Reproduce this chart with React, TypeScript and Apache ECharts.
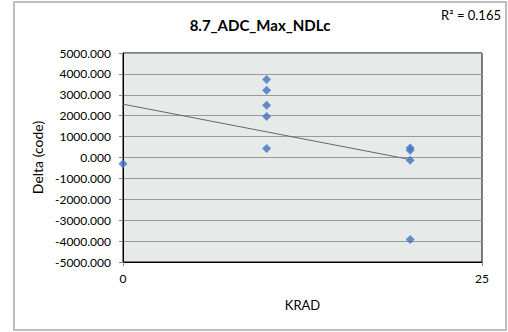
import React, { useEffect, useRef } from "react";
import * as echarts from "echarts";

const title = "8.7_ADC_Max_NDLc";
const xValues = [0, 10, 10, 10, 10, 10, 20, 20, 20, 20];
const yValues = [-300, 3730, 3220, 2500, 1960, 430, 460, 350, -130, -3920];
const yTicks = [-5000, -4000, -3000, -2000, -1000, 0, 1000, 2000, 3000, 4000, 5000];
const xTicks = [0, 25];

function regression(xs: number[], ys: number[]) {
  const n = xs.length;
  const mx = xs.reduce((a, b) => a + b, 0) / n;
  const my = ys.reduce((a, b) => a + b, 0) / n;
  let sxy = 0, sxx = 0, syy = 0;
  for (let i = 0; i < n; i++) {
    sxy += (xs[i] - mx) * (ys[i] - my);
    sxx += (xs[i] - mx) ** 2;
    syy += (ys[i] - my) ** 2;
  }
  const slope = sxy / sxx;
  const intercept = my - slope * mx;
  return { slope, intercept, r2: (sxy * sxy) / (sxx * syy) };
}

export default function App() {
  const ref = useRef<HTMLDivElement>(null);
  useEffect(() => {
    if (!ref.current) return;
    const chart = echarts.init(ref.current, undefined, { renderer: "svg" });
    const reg = regression(xValues, yValues);
    const xmin = Math.min(...xValues);
    const xmax = Math.max(...xValues);
    const font = "Lato, 'Open Sans', sans-serif";
    chart.setOption({
      animation: false,
      backgroundColor: "transparent",
      textStyle: { fontFamily: font },
      graphic: [
        {
          type: "text",
          x: 260,
          y: 25,
          style: {
            text: title,
            fill: "#000",
            font: `bold 15px ${font}`,
            textAlign: "center",
            textVerticalAlign: "middle",
          },
        },
        {
          type: "text",
          x: 501,
          y: 15,
          style: {
            text: `R² = ${reg.r2.toFixed(3)}`,
            fill: "#000",
            font: `13px ${font}`,
            textAlign: "right",
            textVerticalAlign: "middle",
          },
        },
      ],
      grid: {
        left: 123,
        top: 53,
        width: 359,
        height: 209,
        show: true,
        backgroundColor: "#E6EBEA",
        borderColor: "#000",
        borderWidth: 1,
      },
      xAxis: {
        type: "value",
        min: xTicks[0],
        max: xTicks[xTicks.length - 1],
        interval: xTicks[1] - xTicks[0],
        name: "KRAD",
        nameLocation: "middle",
        nameGap: 36,
        nameTextStyle: { fontSize: 13, color: "#000", fontFamily: font },
        axisLine: { show: true, onZero: false, lineStyle: { color: "#000" } },
        axisTick: { show: true, length: 4, lineStyle: { color: "#888" } },
        axisLabel: { color: "#000", fontSize: 12, margin: 10, fontFamily: font },
        splitLine: { show: false },
      },
      yAxis: {
        type: "value",
        min: yTicks[0],
        max: yTicks[yTicks.length - 1],
        interval: 1000,
        name: "Delta (code)",
        nameLocation: "middle",
        nameGap: 73,
        nameTextStyle: { fontSize: 14, color: "#000", fontFamily: font },
        axisLine: { show: true, onZero: false, lineStyle: { color: "#000" } },
        axisTick: { show: true, length: 4, lineStyle: { color: "#888" } },
        axisLabel: {
          color: "#000",
          fontSize: 12,
          margin: 12,
          fontFamily: font,
          formatter: (v: number) => v.toFixed(3),
        },
        splitLine: { show: true, lineStyle: { color: "#999", width: 1 } },
      },
      series: [
        {
          type: "line",
          data: [
            [xmin, reg.intercept + reg.slope * xmin],
            [xmax, reg.intercept + reg.slope * xmax],
          ],
          symbol: "none",
          lineStyle: { color: "#666", width: 1 },
          z: 2,
        },
        {
          type: "scatter",
          data: xValues.map((x, i) => [x, yValues[i]]),
          symbol: "diamond",
          symbolSize: 9,
          itemStyle: { color: "#4472C4" },
          z: 3,
        },
      ],
    });
    return () => chart.dispose();
  }, []);
  return (
    <div style={{ position: "fixed", left: 0, top: 0, width: 508, height: 332, background: "#fff" }}>
      <div ref={ref} style={{ position: "absolute", left: 0, top: 0, width: 508, height: 332 }} />
      <div
        style={{
          position: "absolute",
          left: 13,
          top: 1,
          width: 494,
          height: 330,
          boxSizing: "border-box",
          border: "2px solid #BEBEBE",
          pointerEvents: "none",
        }}
      />
    </div>
  );
}
